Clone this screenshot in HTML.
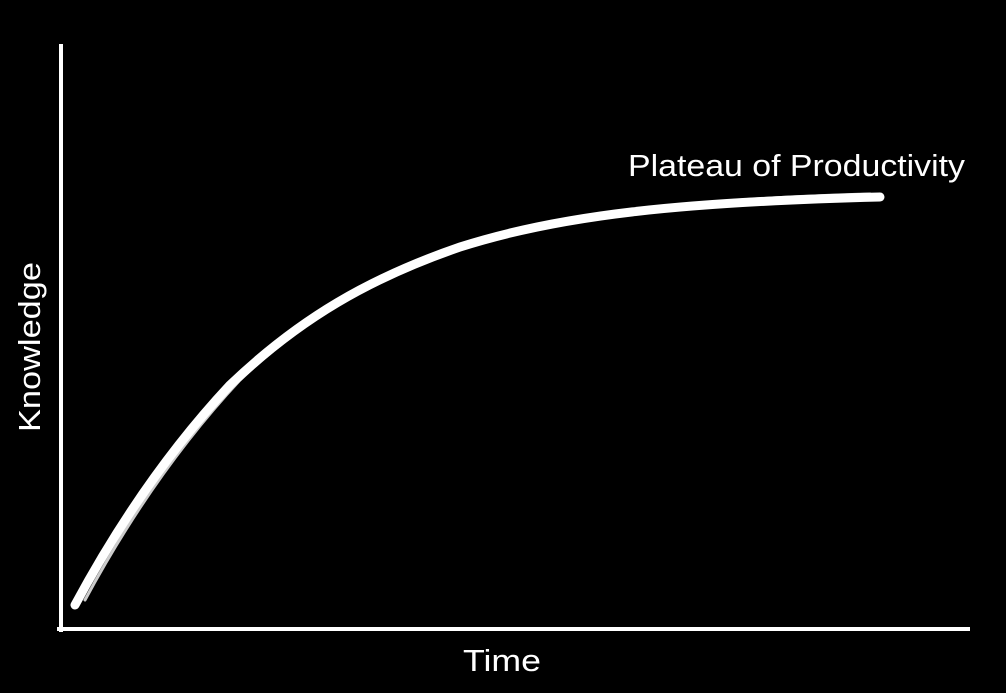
<!DOCTYPE html>
<html><head><meta charset="utf-8"><style>
html,body{margin:0;padding:0;background:#000;}
svg{display:block;}
text{font-family:"Liberation Sans","DejaVu Sans",sans-serif;fill:#fff;}
</style></head><body>
<svg width="1006" height="693" viewBox="0 0 1006 693" xmlns="http://www.w3.org/2000/svg">
<line x1="61" y1="44" x2="61" y2="632" stroke="#fff" stroke-width="4"/>
<line x1="57" y1="629" x2="970" y2="629" stroke="#fff" stroke-width="4"/>
<path d="M75,605 C110,540 160,460 230,385 C300,318 370,278 460,247 C560,215 680,202 880,197" fill="none" stroke="#fff" stroke-width="9" stroke-linecap="round"/>
<path d="M85,600 C120,535 170,455 240,380 C310,314 380,275 470,244 C570,213 690,199 870,194" fill="none" stroke="#fff" stroke-width="3" stroke-linecap="round" opacity="0.8"/>
<text x="628" y="176" font-size="31" textLength="337" lengthAdjust="spacingAndGlyphs">Plateau of Productivity</text>
<text x="463" y="671" font-size="31" textLength="78" lengthAdjust="spacingAndGlyphs">Time</text>
<text transform="translate(40,432) rotate(-90)" font-size="31" textLength="170" lengthAdjust="spacingAndGlyphs">Knowledge</text>
</svg>
</body></html>
